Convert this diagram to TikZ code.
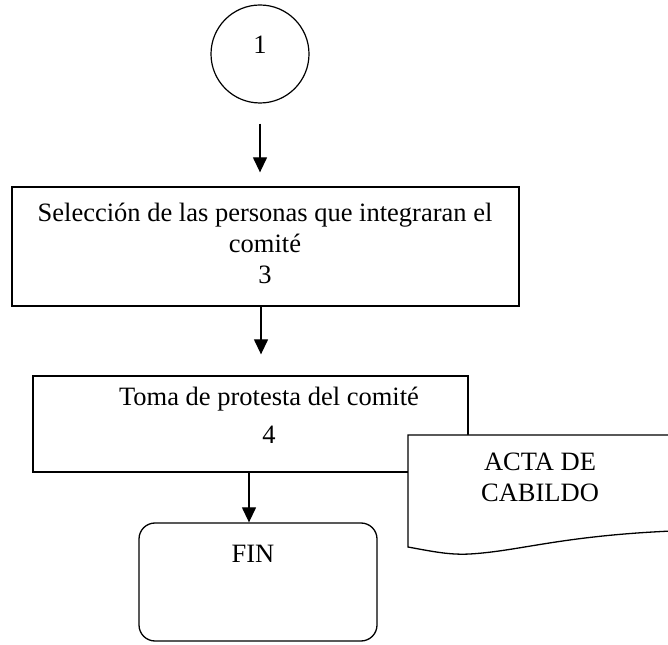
\documentclass[tikz,border=0pt]{standalone}
\usepackage{fontspec}
\setmainfont{Liberation Serif}
\usetikzlibrary{arrows.meta,positioning}
\tikzstyle{startnode}=[draw, circle, line width=1.2pt, minimum size=98pt, inner sep=0pt]
\tikzstyle{procbox}=[draw, rectangle, line width=1.3pt, inner sep=0pt]
\tikzstyle{endbox}=[draw, rectangle, rounded corners=16pt, line width=1.3pt, inner sep=0pt]
\tikzstyle{invis}=[inner sep=0pt, align=center, font=\fontsize{26.5}{31}\selectfont]
\tikzstyle{docshape}=[draw, fill=white, line width=1.3pt]
\tikzstyle{flowArrow}=[line width=1.3pt, -{Triangle[length=15pt,width=14pt]}]

\begin{document}
\begin{tikzpicture}[x=1pt, y=1pt]
    \useasboundingbox (0,0) rectangle (668,644);

    % nodes
    \node[startnode] (start) at (260, 590) {};
    \node[invis, anchor=base] (t0) at (start.center) {1};
    \node[procbox, minimum width=507pt, minimum height=119pt] (b1) at (265.5, 397.5) {};
    \node[invis] (t1) at (265, 401) {Selección de las personas que integraran el\\ comité\\ 3};
    \node[procbox, minimum width=435pt, minimum height=96pt] (b2) at (250.5, 220) {};
    \node[invis] (t2) at (269, 229) {Toma de protesta del comité\\[7pt] 4};
    \node[endbox, minimum width=238pt, minimum height=118pt] (fin) at (258, 62) {};
    \node[invis, anchor=base] (t3) at (253, 81) {FIN};

    % document
    \draw[docshape] (408, 209) -- (672, 209) -- (672, 113)
        .. controls (560, 108) and (520, 93) .. (470, 90)
        .. controls (450, 89) and (435, 92) .. (408, 97) -- cycle;
    \node[invis] (acta) at (540, 167) {ACTA DE\\ CABILDO};

    % arrows
    \draw[flowArrow] ([yshift=-20pt]start.south) -- ([yshift=14pt]start.south |- b1.north);
    \draw[flowArrow] ([xshift=-4.5pt]b1.south) -- ([xshift=-4.5pt, yshift=21pt]b1.south |- b2.north);
    \draw[flowArrow] ([xshift=-1.5pt]b2.south) -- ([xshift=-1.5pt]b2.south |- fin.north);
\end{tikzpicture}
\end{document}
